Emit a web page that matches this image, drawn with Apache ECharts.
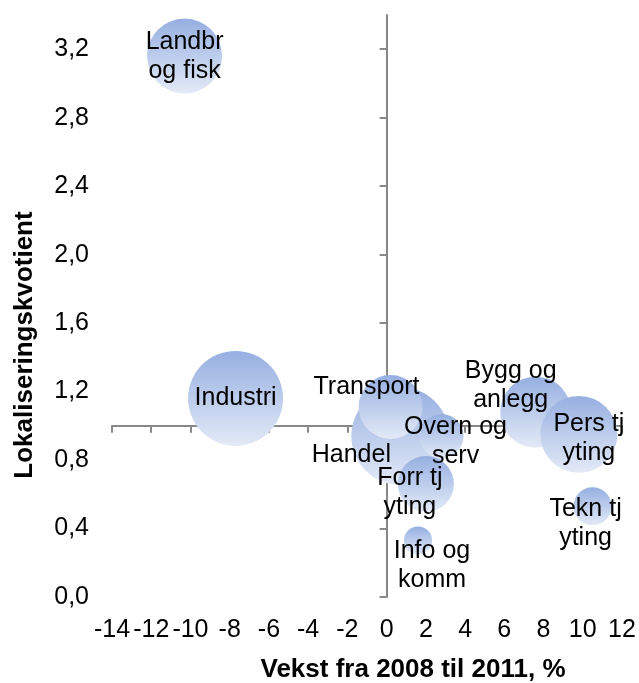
<!DOCTYPE html>
<html>
<head>
<meta charset="utf-8">
<script src="https://cdn.jsdelivr.net/npm/echarts@6/dist/echarts.min.js"></script>
<style>
  html, body { margin: 0; background: #fff; }
  #chart { width: 639px; height: 683px; }
</style>
</head>
<body>
<div id="chart"></div>
<script>
// næringer, vekst i sysselsetting 2008-2011 (%), lokaliseringskvotient, sysselsatte (relativ)
const sectors = ['Landbr\nog fisk', 'Industri', 'Bygg og\nanlegg', 'Handel', 'Transport',
  'Overn og\nserv', 'Info og\nkomm', 'Forr tj\nyting', 'Tekn tj\nyting', 'Pers tj\nyting'];
const growth = [-10.3, -7.7, 7.6, 0.7, 0.2, 2.8, 1.6, 2.0, 10.5, 9.8];
const lq = [3.16, 1.16, 1.08, 0.94, 1.11, 0.94, 0.33, 0.66, 0.53, 0.95];
const employed = [586, 940, 525, 1000, 426, 202, 82, 327, 150, 617];

// akser
const xMin = -14, xMax = 12, xStep = 2;
const yTicks = [0, 0.4, 0.8, 1.2, 1.6, 2.0, 2.4, 2.8, 3.2];
const yMax = 3.4;
const xCross = 1.0; // x-aksen krysser ved lokaliseringskvotient 1

// flytting av etiketter (px), som i originalen
const labelShift = [[0, 1], [0, 0], [-25, -27], [-49, 19], [-24, -20],
  [14, 6], [14, 25], [-16, 9], [-7, 17], [10, 4]];

const maxDiam = 98;
const txt = { fontFamily: 'Liberation Sans', fontSize: 25, color: '#000' };
const titleTxt = { fontFamily: 'Liberation Sans', fontWeight: 'bold', fontSize: 26, color: '#000' };
const axisGray = '#898989';

const points = growth.map((g, i) => [g, lq[i], employed[i]]);
const maxEmp = Math.max(...employed);

const chart = echarts.init(document.getElementById('chart'), null, { renderer: 'canvas' });
chart.setOption({
  backgroundColor: '#fff',
  animation: false,
  grid: { left: 112, right: 17, top: 15, bottom: 86, outerBoundsMode: 'none', containLabel: false },
  xAxis: [
    { // etiketter nederst
      type: 'value', min: xMin, max: xMax, interval: xStep,
      axisLine: { show: false, onZero: false },
      axisTick: { show: false },
      splitLine: { show: false },
      axisLabel: Object.assign({ margin: 21 }, txt),
      name: 'Vekst fra 2008 til 2011, %',
      nameLocation: 'middle', nameGap: 60,
      nameTextStyle: Object.assign({ padding: [0, 0, 0, 92] }, titleTxt)
    },
    { // aksestrek ved y = 1
      type: 'value', min: xMin, max: xMax, interval: xStep, position: 'bottom',
      axisLine: { show: true, onZero: true, onZeroAxisIndex: 2, lineStyle: { color: axisGray, width: 2 } },
      axisTick: { show: true, length: 7, lineStyle: { color: axisGray, width: 2 } },
      axisLabel: { show: false },
      splitLine: { show: false }
    }
  ],
  yAxis: [
    { // etiketter til venstre
      type: 'value', min: 0, max: yMax, interval: 0.4, position: 'left',
      axisLine: { show: false, onZero: false },
      axisTick: { show: false },
      splitLine: { show: false },
      axisLabel: Object.assign({
        margin: 23, showMaxLabel: false,
        formatter: v => v.toFixed(1).replace('.', ',')
      }, txt),
      name: 'Lokaliseringskvotient',
      nameLocation: 'middle', nameGap: 74,
      nameTextStyle: Object.assign({ padding: [0, 78, 0, 0] }, titleTxt)
    },
    { // aksestrek ved x = 0
      type: 'value', min: 0, max: yMax, interval: 0.4, position: 'left',
      axisLine: { show: true, onZero: true, onZeroAxisIndex: 0, lineStyle: { color: axisGray, width: 2 } },
      axisTick: { show: true, length: 7, customValues: yTicks, lineStyle: { color: axisGray, width: 2 } },
      axisLabel: { show: false },
      splitLine: { show: false }
    },
    { // skjult, forskjøvet slik at 0 faller på xCross
      type: 'value', min: 0 - xCross, max: yMax - xCross, show: false,
      axisLine: { onZero: false }, splitLine: { show: false }
    }
  ],
  series: [
    {
      type: 'scatter',
      xAxisIndex: 0, yAxisIndex: 0,
      data: points,
      symbolSize: d => maxDiam * Math.sqrt(d[2] / maxEmp),
      itemStyle: {
        opacity: 1,
        color: new echarts.graphic.LinearGradient(0, 0, 0, 1, [
          { offset: 0, color: '#96afe1' },
          { offset: 1, color: '#e3eaf7' }
        ])
      },
      z: 2
    },
    {
      type: 'scatter',
      xAxisIndex: 0, yAxisIndex: 0,
      data: points,
      symbolSize: 1,
      itemStyle: { color: 'rgba(0,0,0,0)' },
      label: Object.assign({
        show: true, position: 'inside', lineHeight: 29, align: 'center',
        textBorderWidth: 0, opacity: 1,
        formatter: p => sectors[p.dataIndex]
      }, txt),
      labelLayout: p => ({ dx: labelShift[p.dataIndex][0], dy: labelShift[p.dataIndex][1] }),
      silent: true,
      z: 5
    }
  ]
});
</script>
</body>
</html>
